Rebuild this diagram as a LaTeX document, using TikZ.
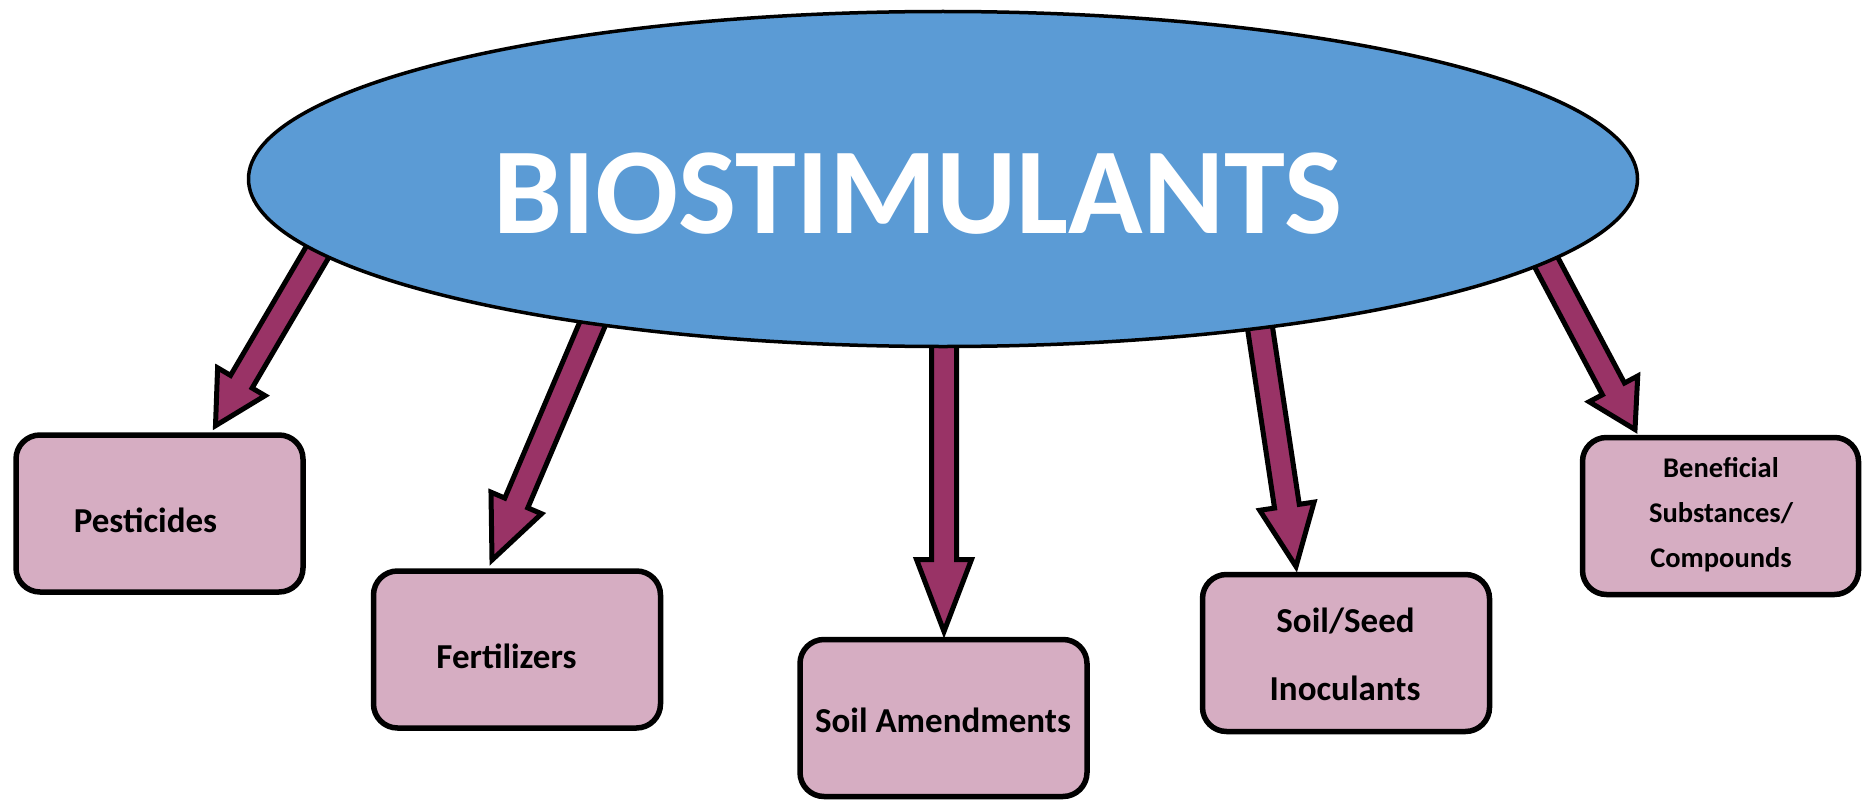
\documentclass[tikz,border=0pt]{standalone}
\usepackage{fontspec}
\setmainfont{Carlito}
\usetikzlibrary{calc,shapes.geometric,backgrounds}
\definecolor{ellblue}{HTML}{5B9BD5}
\definecolor{arrmaroon}{HTML}{993366}
\definecolor{boxpink}{HTML}{D6ADC2}
\newcommand\blockarr[3]{%
  \coordinate (hb) at ($(#2)!#3!(#1)$);
  \filldraw[barrow] ($(#1)!12.5pt!90:(#2)$) -- ($(hb)!12.5pt!90:(#2)$) -- ($(hb)!27.5pt!90:(#2)$) -- (#2)
    -- ($(hb)!27.5pt!-90:(#2)$) -- ($(hb)!12.5pt!-90:(#2)$) -- ($(#1)!12.5pt!-90:(#2)$) -- cycle;
}
\begin{document}
\begin{tikzpicture}[x=1pt,y=-1pt,
  catbox/.style={draw=black, line width=5.5pt, fill=boxpink, rounded corners=24pt,
    minimum width=287pt, minimum height=157pt, inner sep=0pt, outer sep=0pt},
  barrow/.style={draw=black, line width=5pt, fill=arrmaroon, line join=miter},
  boxtext/.style={inner sep=0pt, anchor=base, font=\bfseries\fontsize{35}{40}\selectfont},
  smalltext/.style={inner sep=0pt, anchor=base, font=\bfseries\fontsize{28.5}{32}\selectfont}]
\useasboundingbox (0,0) rectangle (1863,800);

\node[ellipse, draw=black, line width=3.5pt, fill=ellblue, minimum width=1389pt, minimum height=335pt,
  inner sep=0pt, outer sep=0pt] (ell) at (943,179) {};
\node[inner sep=0pt, anchor=base, text=white, font=\bfseries\fontsize{123}{130}\selectfont] (title) at (918,233) {BIOSTIMULANTS};

\node[catbox] (pest) at (159.5,513.5) {};
\node[catbox] (fert) at (517,649.5) {};
\node[catbox] (amend) at (943.5,718) {};
\node[catbox] (seed) at (1346,653) {};
\node[catbox, minimum width=276pt] (benef) at (1720.5,516) {};

\node[boxtext] (tpest) at (145.5,532) {Pesticides};
\node[boxtext] (tfert) at (506.5,668) {Fertilizers};
\node[boxtext] (tamend) at (943,732) {Soil Amendments};
\node[boxtext] (tseed1) at (1345.5,632) {Soil/Seed};
\node[boxtext] (tseed2) at (1345,700) {Inoculants};
\node[smalltext] (tben1) at (1721,477) {Beneficial};
\node[smalltext] (tben2) at (1721,522) {Substances/};
\node[smalltext] (tben3) at (1721,567) {Compounds};

\coordinate (a1s) at ($(ell.center)+(-612,50)$);
\coordinate (a1t) at ($(pest.north)+(56,-9.3)$);
\coordinate (a2s) at ($(ell.center)+(-342,125)$);
\coordinate (a2t) at ($(fert.north)+(-25,-11)$);
\coordinate (a3s) at ($(ell.center)+(1,141)$);
\coordinate (a3t) at ($(amend.north)+(0.5,-8)$);
\coordinate (a4s) at ($(ell.center)+(314,129)$);
\coordinate (a4t) at ($(seed.north)+(-50,-8)$);
\coordinate (a5s) at ($(ell.center)+(593,64)$);
\coordinate (a5t) at ($(benef.north)+(-85.5,-8)$);

\begin{pgfonlayer}{background}
\blockarr{a1s}{a1t}{51pt}
\blockarr{a2s}{a2t}{62pt}
\blockarr{a3s}{a3t}{72pt}
\blockarr{a4s}{a4t}{61pt}
\blockarr{a5s}{a5t}{46pt}
\end{pgfonlayer}
\end{tikzpicture}
\end{document}
